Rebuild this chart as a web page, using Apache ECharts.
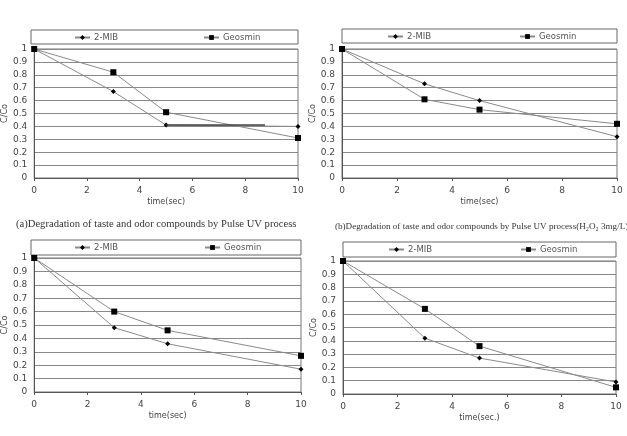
<!DOCTYPE html>
<html><head><meta charset="utf-8">
<script src="https://cdn.jsdelivr.net/npm/echarts@6/dist/echarts.min.js"></script>
<style>html,body{margin:0;padding:0;background:#fff}#c{width:627px;height:436px}</style>
</head><body><div id="c"></div>
<script>
// Data
const times = [0, 3, 5, 10];
const mib1 = [1, 0.67, 0.41, 0.40];
const geo1 = [1, 0.82, 0.51, 0.31];
const mib2 = [1, 0.73, 0.60, 0.32];
const geo2 = [1, 0.61, 0.53, 0.42];
const mib3 = [1, 0.48, 0.36, 0.17];
const geo3 = [1, 0.60, 0.46, 0.27];
const mib4 = [1, 0.42, 0.27, 0.09];
const geo4 = [1, 0.64, 0.36, 0.05];
const artifactSegment = [[5, 0.41], [8.75, 0.41]];
const xTitles = ['time(sec)', 'time(sec)', 'time(sec)', 'time(sec.)'];
const yTitle = 'C/Co';
const captionA = '(a)Degradation of taste and odor compounds by Pulse UV process';
const captionB = '(b)Degradation of taste and odor compounds by Pulse UV process(H\u2082O\u2082 3mg/L)';

const grids = [
  {left: 31, top: 49, width: 267, height: 129},
  {left: 342, top: 49, width: 275, height: 129},
  {left: 31, top: 258, width: 270, height: 134},
  {left: 343, top: 261, width: 273, height: 133}
];
const legBoxes = [
  {x: 31, y: 30, w: 267, h: 14},
  {x: 342, y: 29, w: 275, h: 14},
  {x: 31, y: 240, w: 270, h: 15},
  {x: 343, y: 242, w: 273, h: 15}
];
const legPos = [
  {a: 73, b: 202},
  {a: 386, b: 518},
  {a: 73, b: 203},
  {a: 387, b: 519}
];
const mibs = [mib1, mib2, mib3, mib4];
const geos = [geo1, geo2, geo3, geo4];
const pairs = v => times.map((t, i) => [t, v[i]]);

const labelFont = {color: '#444', fontSize: 9, fontFamily: 'DejaVu Sans'};
const option = {
  animation: false,
  backgroundColor: '#fff',
  grid: grids.map(g => Object.assign({show: true, borderColor: '#777', borderWidth: 1, backgroundColor: 'transparent'}, g)),
  xAxis: grids.map((g, i) => ({
    type: 'value', gridIndex: i, min: 0, max: 10, interval: 2,
    name: xTitles[i], nameLocation: 'middle', nameGap: 20,
    nameTextStyle: {color: '#444', fontSize: 8, fontFamily: 'DejaVu Sans'},
    axisLine: {show: true, lineStyle: {color: '#555'}},
    axisTick: {show: true, inside: false, length: 3, lineStyle: {color: '#555'}},
    axisLabel: Object.assign({margin: 8}, labelFont),
    splitLine: {show: false}
  })),
  yAxis: grids.map((g, i) => ({
    type: 'value', gridIndex: i, min: 0, max: 1, interval: 0.1,
    name: yTitle, nameLocation: 'middle', nameGap: 18, nameRotate: 90,
    nameTextStyle: {color: '#444', fontSize: 8, fontFamily: 'DejaVu Sans'},
    axisLine: {show: true, lineStyle: {color: '#555'}},
    axisTick: {show: false},
    axisLabel: Object.assign({margin: 7}, labelFont),
    splitLine: {show: true, lineStyle: {color: '#888', width: 1}}
  })),
  legend: [],
  series: [],
  graphic: []
};

for (let i = 0; i < 4; i++) {
  const mibName = '2-MIB' + '\u200B'.repeat(i);
  const geoName = 'Geosmin' + '\u200B'.repeat(i);
  const mibSeries = {
    name: mibName, type: 'line', xAxisIndex: i, yAxisIndex: i,
    data: pairs(mibs[i]), symbol: 'diamond', symbolSize: 5,
    lineStyle: {color: '#8a8a8a', width: 1}, itemStyle: {color: '#000'}
  };
  if (i === 0) {
    mibSeries.markLine = {
      symbol: 'none', silent: true, label: {show: false},
      lineStyle: {color: '#444', width: 1.5, type: 'solid'},
      data: [[{coord: artifactSegment[0]}, {coord: artifactSegment[1]}]]
    };
  }
  option.series.push(mibSeries);
  option.series.push({
    name: geoName, type: 'line', xAxisIndex: i, yAxisIndex: i,
    data: pairs(geos[i]), symbol: 'rect', symbolSize: 6,
    lineStyle: {color: '#8a8a8a', width: 1}, itemStyle: {color: '#000'}
  });
  const b = legBoxes[i];
  const common = {
    top: b.y + 2, itemWidth: 15, itemHeight: 6, itemGap: 0, padding: 1,
    textStyle: {color: '#555', fontSize: 8.5, fontFamily: 'DejaVu Sans', padding: [0,0,0,-1]}
  };
  option.legend.push(Object.assign({left: legPos[i].a, data: [mibName],
    formatter: () => '2-MIB'}, common));
  option.legend.push(Object.assign({left: legPos[i].b, data: [geoName],
    formatter: () => 'Geosmin'}, common));
  option.graphic.push({
    type: 'rect', shape: {x: b.x, y: b.y, width: b.w, height: b.h},
    style: {fill: 'none', stroke: '#666', lineWidth: 1}, z: -1
  });
}
option.graphic.push({
  type: 'text', left: 16, top: 219,
  style: {text: captionA, fill: '#333', font: '10.6px "Liberation Serif"'}
});
option.graphic.push({
  type: 'text', left: 335, top: 222,
  style: {text: captionB, fill: '#333', font: '9.1px "Liberation Serif"'}
});

const chart = echarts.init(document.getElementById('c'));
chart.setOption(option);
</script>
</body></html>
